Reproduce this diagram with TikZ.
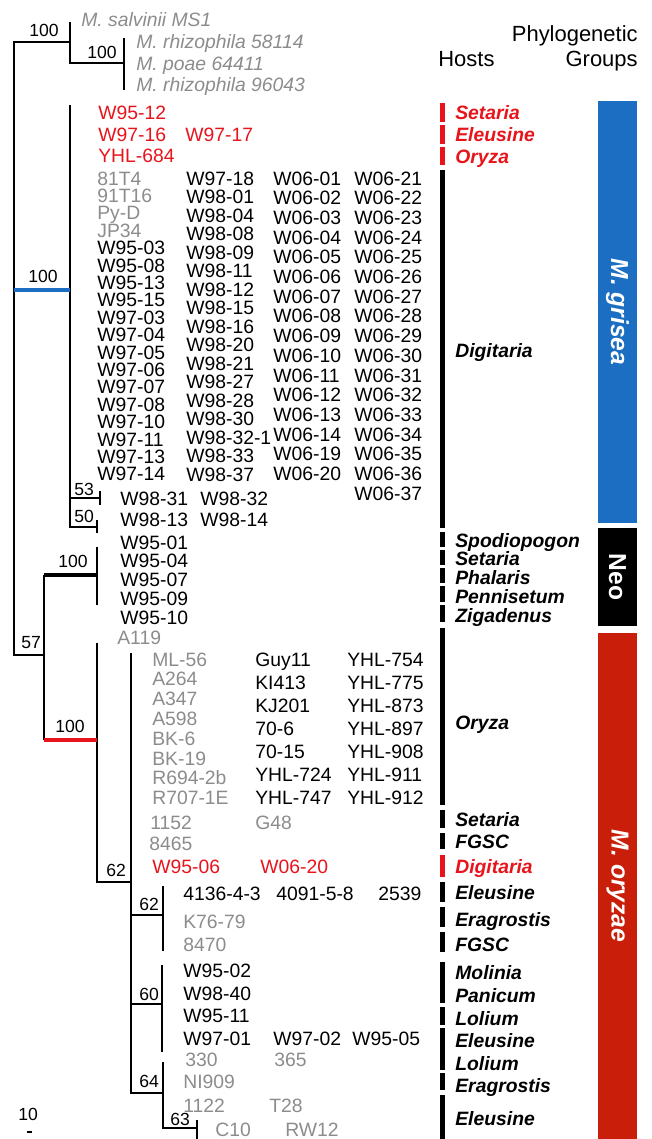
\documentclass[tikz,border=0pt]{standalone}
\usepackage{fontspec}
\setmainfont{Liberation Sans}
\usepackage{tikz}

\definecolor{leafgray}{HTML}{8C8C8C}
\definecolor{hostred}{HTML}{E8141B}
\definecolor{griseablue}{HTML}{1B6EC2}
\definecolor{oryzaered}{HTML}{C81E0A}

\tikzset{
  leaf/.style={anchor=base west, inner sep=0pt, font=\fontsize{11}{11}\selectfont},
  grayleaf/.style={leaf, text=leafgray},
  redleaf/.style={leaf, text=hostred},
  outleaf/.style={leaf, text=leafgray, font=\fontsize{11}{11}\selectfont\itshape},
  boot/.style={anchor=base west, inner sep=0pt, font=\fontsize{10}{10}\selectfont},
  host/.style={anchor=base west, inner sep=0pt, font=\fontsize{11}{11}\selectfont\bfseries\itshape},
  head/.style={inner sep=0pt, font=\fontsize{12.5}{12.5}\selectfont},
  grouplabel/.style={rotate=-90, text=white, inner sep=0pt, font=\fontsize{14}{14}\selectfont\bfseries},
  branch/.style={line width=1.15pt},
  hostbar/.style={line width=2.8pt},
}

\begin{document}
\begin{tikzpicture}[x=0.02cm, y=-0.02cm]
  \useasboundingbox (0,0) rectangle (652,1139);

  % Tree joints
  \coordinate (r0) at (14,42);
  \coordinate (rg) at (14,290);
  \coordinate (r57) at (14,655);
  \coordinate (og1) at (70,42);
  \coordinate (og1t) at (70,22);
  \coordinate (og1b) at (70,63);
  \coordinate (og2) at (124,63);
  \coordinate (og2t) at (124,38);
  \coordinate (og2b) at (124,90);
  \coordinate (gr) at (70,290);
  \coordinate (grt) at (70,105);
  \coordinate (grb) at (70,527);
  \coordinate (g53a) at (70,498);
  \coordinate (g53) at (100,498);
  \coordinate (g53t) at (100,491);
  \coordinate (g53b) at (100,505);
  \coordinate (g50) at (97,527);
  \coordinate (g50t) at (97,520);
  \coordinate (g50b) at (97,533);
  \coordinate (n57) at (44,655);
  \coordinate (n57t) at (44,575);
  \coordinate (n57b) at (44,740);
  \coordinate (neo) at (97,575);
  \coordinate (neot) at (97,547);
  \coordinate (neob) at (97,605);
  \coordinate (ory) at (97,740);
  \coordinate (oryt) at (97,643);
  \coordinate (oryb) at (97,882);
  \coordinate (c62) at (131,882);
  \coordinate (c62t) at (131,653);
  \coordinate (c62b) at (131,1093);
  \coordinate (c62a) at (131,915);
  \coordinate (d62) at (163,915);
  \coordinate (d62t) at (163,886);
  \coordinate (d62b) at (163,951);
  \coordinate (c60a) at (131,1004);
  \coordinate (d60) at (162,1004);
  \coordinate (d60t) at (162,965);
  \coordinate (d60b) at (162,1052);
  \coordinate (c64) at (163,1093);
  \coordinate (c64b) at (163,1128);
  \coordinate (c64t) at (163,1062);
  \coordinate (c63) at (197,1128);
  \coordinate (c63t) at (197,1120);
  \coordinate (c63b) at (197,1139);

  % Branches
  \draw[branch] (og1) -- (r0) -- (r57) -- (n57);
  \draw[branch] (og1t) -- (og1b) -- (og2);
  \draw[branch] (og2t) -- (og2b);
  \draw[branch] (grt) -- (grb) -- (g50);
  \draw[branch] (g53a) -- (g53);
  \draw[branch] (g53t) -- (g53b);
  \draw[branch] (g50t) -- (g50b);
  \draw[branch] (n57t) -- (n57b);
  \draw[branch] (neot) -- (neob);
  \draw[branch] (oryt) -- (oryb) -- (c62);
  \draw[branch] (c62t) -- (c62b) -- (c64);
  \draw[branch] (c62a) -- (d62);
  \draw[branch] (d62t) -- (d62b);
  \draw[branch] (c60a) -- (d60);
  \draw[branch] (d60t) -- (d60b);
  \draw[branch] (c64t) -- (c64b) -- (c63);
  \draw[branch] (c63t) -- (c63b);
  \draw[line width=2.3pt, griseablue] (rg) -- (gr);
  \draw[line width=2.8pt] (n57t) -- (neo);
  \draw[line width=2.8pt, hostred] (n57b) -- (ory);

  % Bootstrap values
  \node[boot] (b1) at (29,36) {100};
  \node[boot] (b2) at (87,58) {100};
  \node[boot] (b3) at (28,282) {100};
  \node[boot] (b4) at (74,495) {53};
  \node[boot] (b5) at (74,522) {50};
  \node[boot] (b6) at (58,567) {100};
  \node[boot] (b7) at (21,648) {57};
  \node[boot] (b8) at (55,732) {100};
  \node[boot] (b9) at (106,876) {62};
  \node[boot] (b10) at (139,910) {62};
  \node[boot] (b11) at (139,1000) {60};
  \node[boot] (b12) at (139,1087) {64};
  \node[boot] (b13) at (170,1125) {63};

  % Outgroup
  \node[outleaf] (ms1) at (81,27) {M. salvinii MS1};
  \node[outleaf] (mr1) at (136,48) {M. rhizophila 58114};
  \node[outleaf] (mp1) at (136,70) {M. poae 64411};
  \node[outleaf] (mr2) at (136,91) {M. rhizophila 96043};

  % M. grisea
  \node[redleaf] (w9512) at (98,119) {W95-12};
  \node[redleaf] (w9716) at (98,141) {W97-16};
  \node[redleaf] (w9717) at (185,141) {W97-17};
  \node[redleaf] (yhl684) at (98,162) {YHL-684};
  \foreach \s [count=\i] in {81T4,91T16,Py-D,JP34}
    \node[grayleaf] (ga\i) at (97,{185+(\i-1)*17.4}) {\s};
  \foreach \s [count=\i from 5] in {W95-03,W95-08,W95-13,W95-15,W97-03,W97-04,W97-05,W97-06,W97-07,W97-08,W97-10,W97-11,W97-13,W97-14}
    \node[leaf] (ga\i) at (97,{185+(\i-1)*17.4}) {\s};
  \foreach \s [count=\i] in {W97-18,W98-01,W98-04,W98-08,W98-09,W98-11,W98-12,W98-15,W98-16,W98-20,W98-21,W98-27,W98-28,W98-30,W98-32-1,W98-33,W98-37}
    \node[leaf] (gb\i) at (186,{185+(\i-1)*18.5}) {\s};
  \foreach \s [count=\i] in {W06-01,W06-02,W06-03,W06-04,W06-05,W06-06,W06-07,W06-08,W06-09,W06-10,W06-11,W06-12,W06-13,W06-14,W06-19,W06-20}
    \node[leaf] (gc\i) at (273,{185+(\i-1)*19.7}) {\s};
  \foreach \s [count=\i] in {W06-21,W06-22,W06-23,W06-24,W06-25,W06-26,W06-27,W06-28,W06-29,W06-30,W06-31,W06-32,W06-33,W06-34,W06-35,W06-36,W06-37}
    \node[leaf] (gd\i) at (354,{185+(\i-1)*19.7}) {\s};
  \node[leaf] (w9831) at (120,505) {W98-31};
  \node[leaf] (w9832) at (200,505) {W98-32};
  \node[leaf] (w9813) at (120,526) {W98-13};
  \node[leaf] (w9814) at (200,526) {W98-14};

  % Neo
  \foreach \s [count=\i] in {W95-01,W95-04,W95-07,W95-09,W95-10}
    \node[leaf] (neo\i) at (120,{549+(\i-1)*18.8}) {\s};

  % M. oryzae
  \node[grayleaf] (a119) at (117,644) {A119};
  \foreach \s [count=\i] in {ML-56,A264,A347,A598,BK-6,BK-19,R694-2b,R707-1E}
    \node[grayleaf] (oa\i) at (152,{666+(\i-1)*19.8}) {\s};
  \foreach \s [count=\i] in {Guy11,KI413,KJ201,70-6,70-15,YHL-724,YHL-747}
    \node[leaf] (ob\i) at (255,{666+(\i-1)*23.1}) {\s};
  \foreach \s [count=\i] in {YHL-754,YHL-775,YHL-873,YHL-897,YHL-908,YHL-911,YHL-912}
    \node[leaf] (oc\i) at (347,{666+(\i-1)*23.1}) {\s};
  \node[grayleaf] (s1152) at (150,829) {1152};
  \node[grayleaf] (g48) at (255,829) {G48};
  \node[grayleaf] (s8465) at (149,850) {8465};
  \node[redleaf] (w9506) at (152,873) {W95-06};
  \node[redleaf] (w0620) at (260,873) {W06-20};
  \node[leaf] (s4136) at (183,900) {4136-4-3};
  \node[leaf] (s4091) at (276,900) {4091-5-8};
  \node[leaf] (s2539) at (378,900) {2539};
  \node[grayleaf] (k7679) at (183,928) {K76-79};
  \node[grayleaf] (s8470) at (183,951) {8470};
  \node[leaf] (w9502) at (183,977) {W95-02};
  \node[leaf] (w9840) at (183,1000) {W98-40};
  \node[leaf] (w9511) at (183,1022) {W95-11};
  \node[leaf] (w9701) at (183,1045) {W97-01};
  \node[leaf] (w9702) at (273,1045) {W97-02};
  \node[leaf] (w9505) at (352,1045) {W95-05};
  \node[grayleaf] (s330) at (185,1066) {330};
  \node[grayleaf] (s365) at (274,1066) {365};
  \node[grayleaf] (ni909) at (183,1088) {NI909};
  \node[grayleaf] (s1122) at (183,1112) {1122};
  \node[grayleaf] (t28) at (269,1112) {T28};
  \node[grayleaf] (c10) at (215,1136) {C10};
  \node[grayleaf] (rw12) at (285,1136) {RW12};

  % Host bars
  \foreach \a/\b in {103/122,125/144,147/165,855/877}
    \draw[hostbar, hostred] (442.5,\a) -- (442.5,\b);
  \foreach \a/\b in {170/528,532/547,550/565,568/583,586/602,605/622,628/805,810/828,833/849,882/902,907/927,932/952,962/1003,1007/1025,1028/1070,1073/1090,1095/1139}
    \draw[hostbar] (442.5,\a) -- (442.5,\b);

  % Host names
  \node[host, text=hostred] (h1) at (455,119) {Setaria};
  \node[host, text=hostred] (h2) at (455,141) {Eleusine};
  \node[host, text=hostred] (h3) at (455,163) {Oryza};
  \node[host] (h4) at (455,357) {Digitaria};
  \node[host] (h5) at (455,547) {Spodiopogon};
  \node[host] (h6) at (455,565) {Setaria};
  \node[host] (h7) at (455,584) {Phalaris};
  \node[host] (h8) at (455,603) {Pennisetum};
  \node[host] (h9) at (455,622) {Zigadenus};
  \node[host] (h10) at (455,729) {Oryza};
  \node[host] (h11) at (455,826) {Setaria};
  \node[host] (h12) at (455,848) {FGSC};
  \node[host, text=hostred] (h13) at (455,873) {Digitaria};
  \node[host] (h14) at (455,899) {Eleusine};
  \node[host] (h15) at (455,926) {Eragrostis};
  \node[host] (h16) at (455,951) {FGSC};
  \node[host] (h17) at (455,979) {Molinia};
  \node[host] (h18) at (455,1002) {Panicum};
  \node[host] (h19) at (455,1025) {Lolium};
  \node[host] (h20) at (455,1047) {Eleusine};
  \node[host] (h21) at (455,1070) {Lolium};
  \node[host] (h22) at (455,1092) {Eragrostis};
  \node[host] (h23) at (455,1125) {Eleusine};

  % Phylogenetic groups
  \fill[griseablue] (598,101) rectangle (637,523);
  \fill[black] (598,528) rectangle (637,626);
  \fill[oryzaered] (598,633) rectangle (637,1139);
  \node[grouplabel] (grisea) at (617.5,312) {\itshape M. grisea};
  \node[grouplabel] (neogrp) at (617.5,577) {Neo};
  \node[grouplabel] (oryzae) at (617.5,886) {\itshape M. oryzae};

  % Header
  \node[head, anchor=base east] (phylo) at (638,41) {Phylogenetic};
  \node[head, anchor=base west] (hosts) at (438,66) {Hosts};
  \node[head, anchor=base east] (groups) at (638,66) {Groups};

  % Scale bar
  \node[boot] (scale) at (18,1120) {10};
  \coordinate (sb0) at (27,1132);
  \coordinate (sb1) at (32,1132);
  \draw[branch] (sb0) -- (sb1);
\end{tikzpicture}
\end{document}
